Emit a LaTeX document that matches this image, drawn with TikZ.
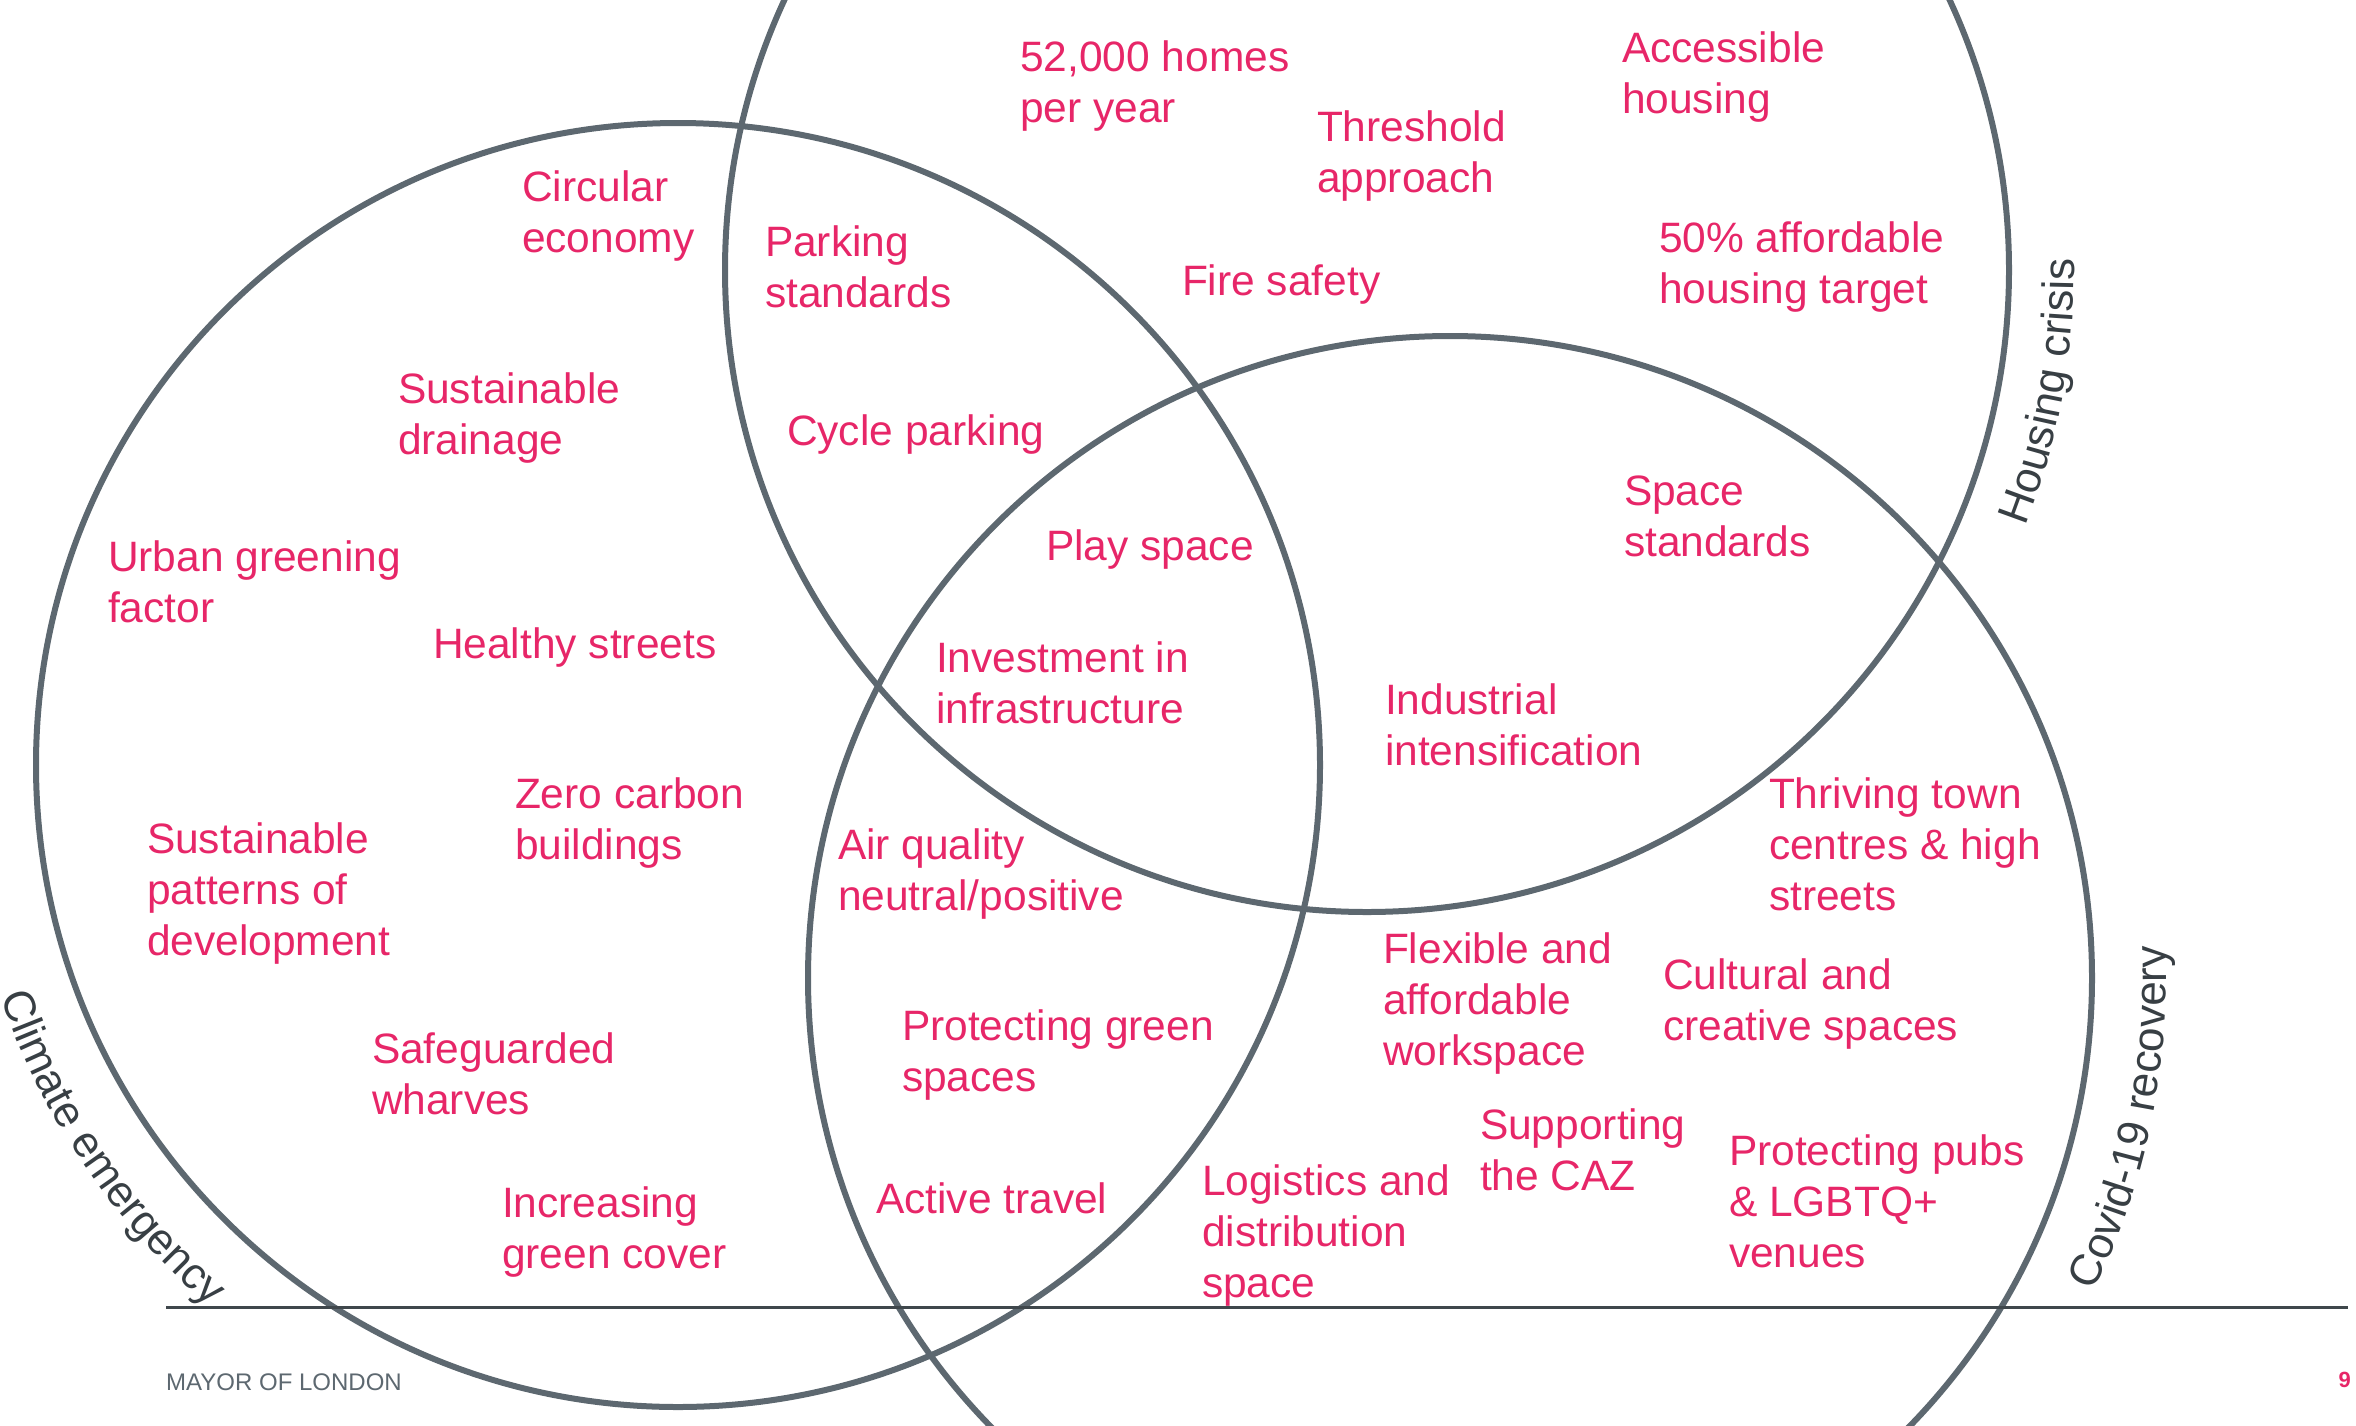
\documentclass[tikz,border=0pt]{standalone}
\usepackage{fontspec}
\setmainfont{Liberation Sans}
\usetikzlibrary{decorations.text}
\definecolor{lpink}{RGB}{231,38,104}
\definecolor{ringgray}{RGB}{93,104,112}
\definecolor{labgray}{RGB}{56,63,68}
\definecolor{rulegray}{RGB}{63,71,76}
\definecolor{footgray}{RGB}{93,104,112}
\newcommand\itemfont{\fontsize{42.5}{51}\selectfont}
\newcommand\setlabelfont{\fontsize{44}{51}\selectfont}
\begin{document}
\begin{tikzpicture}[x=1pt,y=1pt,
  item/.style={anchor=base west, inner sep=0pt, outer sep=0pt, align=left, text=lpink, font=\itemfont},
  ring/.style={circle, draw=ringgray, line width=6pt, inner sep=0pt, minimum size=1284pt},
  curvelabel/.style={decorate, decoration={text along path, text={|\setlabelfont|#1}, text align=center, text color=labgray}}
  ]
\useasboundingbox (0,0) rectangle (2356,-1425);
\begin{scope}
\clip (0,0) rectangle (2356,-1425);
\node[ring] (climate) at (678,-765) {};
\node[ring] (housing) at (1367,-270) {};
\node[ring] (covid) at (1450,-978) {};
\end{scope}

% curved set labels
\path[curvelabel={Climate emergency}] (678,-765) ++(174:716) arc[start angle=174, end angle=254, radius=716];
\path[curvelabel={Housing crisis}] (1367,-270) ++(-50.2:707) arc[start angle=-50.2, end angle=29.8, radius=707];
\path[curvelabel={Covid-19 recovery}] (1450,-978) ++(-51.7:716) arc[start angle=-51.7, end angle=28.3, radius=716];

% items (base anchor = baseline of last line)
\node[item] (circ) at (522,-252) {Circular\\economy};
\node[item] (park) at (765,-307) {Parking\\standards};
\node[item] (homes) at (1020,-122) {52,000 homes\\per year};
\node[item] (thresh) at (1317,-192) {Threshold\\approach};
\node[item] (access) at (1622,-113) {Accessible\\housing};
\node[item] (afford) at (1659,-303) {50\% affordable\\housing target};
\node[item] (fire) at (1182,-295) {Fire safety};
\node[item] (sdrain) at (398,-454) {Sustainable\\drainage};
\node[item] (cycle) at (787,-445) {Cycle parking};
\node[item] (ugf) at (108,-622) {Urban greening\\factor};
\node[item] (play) at (1046,-560) {Play space};
\node[item] (space) at (1624,-556) {Space\\standards};
\node[item] (healthy) at (433,-658) {Healthy streets};
\node[item] (invest) at (936,-723) {Investment in\\infrastructure};
\node[item] (indus) at (1385,-765) {Industrial\\intensification};
\node[item] (zero) at (515,-859) {Zero carbon\\buildings};
\node[item] (spatt) at (147,-955) {Sustainable\\patterns of\\development};
\node[item] (air) at (838,-910) {Air quality\\neutral/positive};
\node[item] (thrive) at (1769,-910) {Thriving town\\centres \& high\\streets};
\node[item] (flex) at (1383,-1065) {Flexible and\\affordable\\workspace};
\node[item] (cult) at (1663,-1040) {Cultural and\\creative spaces};
\node[item] (pgreen) at (902,-1091) {Protecting green\\spaces};
\node[item] (wharf) at (372,-1114) {Safeguarded\\wharves};
\node[item] (caz) at (1480,-1190) {Supporting\\the CAZ};
\node[item] (pubs) at (1729,-1267) {Protecting pubs\\\& LGBTQ+\\venues};
\node[item] (logis) at (1202,-1297) {Logistics and\\distribution\\space};
\node[item] (active) at (876,-1213) {Active travel};
\node[item] (cover) at (502,-1268) {Increasing\\green cover};

% footer
\coordinate (ruleL) at (166,-1307);
\coordinate (ruleR) at (2348,-1307);
\draw[rulegray, line width=3pt] (ruleL) -- (ruleR);
\node[anchor=base west, inner sep=0pt, text=footgray, font=\fontsize{24}{28}\selectfont] (mayor) at (166,-1390) {MAYOR OF LONDON};
\node[anchor=base east, inner sep=0pt, text=lpink, font=\bfseries\fontsize{22}{26}\selectfont] (pagenum) at (2351,-1387) {9};
\end{tikzpicture}
\end{document}
